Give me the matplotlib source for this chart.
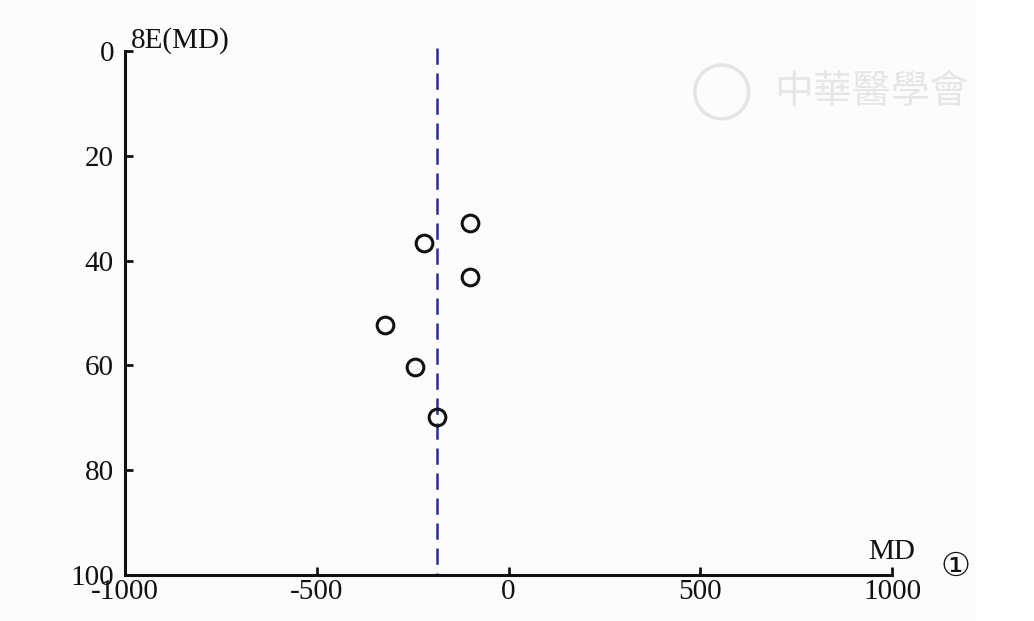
import matplotlib
matplotlib.use("Agg")
import matplotlib.pyplot as plt
from matplotlib.patches import Rectangle, Ellipse

md_values = [-100, -220, -100, -322, -244, -186]
se_values = [32.8, 36.6, 43.1, 52.2, 60.4, 69.9]
pooled_md = -187
x_ticks = [-1000, -500, 0, 500, 1000]
y_ticks = [0, 20, 40, 60, 80, 100]

plt.rcParams['font.family'] = ['Liberation Serif', 'DejaVu Serif']

W, H = 10.34, 6.21
fig = plt.figure(figsize=(W, H), dpi=100)
fig.patch.set_facecolor('#fcfcfc')
fig.patches.append(Rectangle((0.943, 0), 0.057, 1, transform=fig.transFigure,
                             facecolor='white', edgecolor='none', zorder=-1))
ax = fig.add_axes([0.1209, 0.0741, 0.7418, 0.8438])
ax.set_facecolor('none')

ax.plot([pooled_md, pooled_md], [-0.6, 100], color='#2a2a9c', lw=1.8,
        dashes=(6.5, 3.5), zorder=1, clip_on=False)
ax.plot(md_values, se_values, 'o', ms=12, mfc='none', mec='#111111', mew=2.2, zorder=3)

ax.set_xlim(-1000, 1000)
ax.set_ylim(100, 0)
ax.set_xticks(x_ticks)
ax.set_xticklabels([str(v) for v in x_ticks])
ax.set_yticks(y_ticks)
ax.set_yticklabels([str(v) for v in y_ticks])

for s in ['top', 'right']:
    ax.spines[s].set_visible(False)
for s in ['left', 'bottom']:
    ax.spines[s].set_linewidth(2.2)
    ax.spines[s].set_color('#111111')

ax.tick_params(axis='both', direction='in', length=6, width=2.0, color='#111111',
               labelsize=21, labelcolor='#111111')
ax.tick_params(axis='x', pad=3)
ax.tick_params(axis='y', pad=8)

ax.text(0.008, 0.995, '8E(MD)', transform=ax.transAxes, fontsize=21,
        ha='left', va='bottom', color='#111111')
ax.text(1.0, 0.02, 'MD', transform=ax.transAxes, fontsize=21,
        ha='center', va='bottom', color='#111111')
fig.text(0.924, 0.088, '①', fontsize=24, ha='center', va='center',
         family=['DejaVu Sans'], color='#111111')

fig.patches.append(Ellipse((0.698, 0.852), 0.052, 0.052 * W / H, transform=fig.transFigure,
                           facecolor='none', edgecolor='#e4e4e4', lw=2.5))
fig.text(0.843, 0.852, '中華醫學會', fontsize=28, ha='center', va='center',
         family=['Noto Sans CJK TC', 'DejaVu Sans'], color='#e6e6e6', style='italic')

fig.savefig('out.png', dpi=100, facecolor=fig.get_facecolor())
